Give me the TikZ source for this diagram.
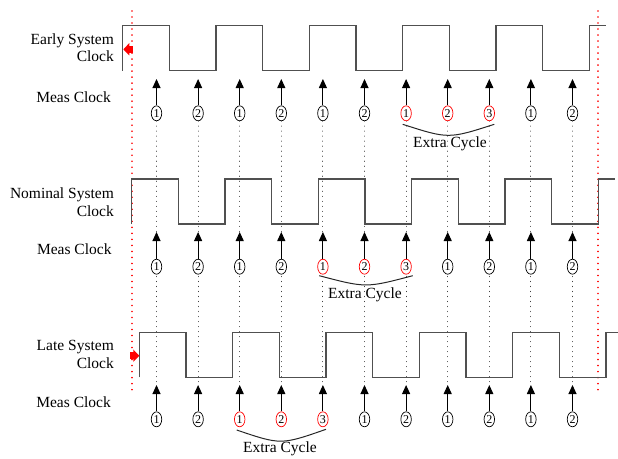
\documentclass[tikz,border=0pt]{standalone}
\usepackage{fontspec}
\setmainfont{Liberation Serif}
\usetikzlibrary{shapes.geometric,arrows.meta}
\definecolor{clkgray}{HTML}{505050}
\definecolor{dotgray}{HTML}{404040}
\pgfdeclarelayer{bg}
\pgfsetlayers{bg,main}
\begin{document}
\begin{tikzpicture}[x=1pt,y=-1pt,
  clk/.style={draw=clkgray,line width=1.4pt,line join=miter},
  lbl/.style={font=\fontsize{15.5}{17.5}\selectfont,align=right,anchor=east,inner sep=0pt},
  num/.style={ellipse,draw=black,line width=0.7pt,fill=white,minimum width=10.5pt,minimum height=15pt,inner sep=0pt,font=\fontsize{12}{12}\selectfont},
  rednum/.style={num,draw=red},
  meas/.style={draw=black,line width=1pt,-{Triangle[width=8pt,length=9pt]}},
  vdot/.style={draw=dotgray,line width=1.1pt,line cap=round,dash pattern=on 0.01pt off 5pt},
  rdot/.style={draw=red,line width=1.7pt,line cap=round,dash pattern=on 0.01pt off 6pt},
  xtra/.style={draw=black!85,line width=1pt},
  xlbl/.style={font=\fontsize{15.5}{17.5}\selectfont,inner sep=0pt},
  redarr/.style={draw=red,line width=6.5pt,-{Triangle[width=12pt,length=6pt]}},
]
\useasboundingbox (0,0) rectangle (618,458);

% labels
\node[lbl] (le) at (114,47.5) {Early System\\Clock};
\node[lbl] (lme) at (111,96.7) {Meas Clock};
\node[lbl] (ln) at (114,202) {Nominal System\\Clock};
\node[lbl] (lmn) at (111.7,249.3) {Meas Clock};
\node[lbl] (ll) at (114,354.5) {Late System\\Clock};
\node[lbl] (lml) at (111,402.3) {Meas Clock};

% red reference lines
\coordinate (rl1) at (131.7,11);
\coordinate (rl2) at (131.7,390);
\coordinate (rr1) at (598.3,11);
\coordinate (rr2) at (598.3,390);
\draw[rdot] (rl1) -- (rl2);
\draw[rdot] (rr1) -- (rr2);

% clocks
\draw[clk] (122.7,70.7) -- (122.7,25.7)
  -- (169.3,25.7) -- (169.3,70.7) -- (216,70.7) -- (216,25.7)
  -- (262.7,25.7) -- (262.7,70.7) -- (309.3,70.7) -- (309.3,25.7)
  -- (356,25.7) -- (356,70.7) -- (402.7,70.7) -- (402.7,25.7)
  -- (449.3,25.7) -- (449.3,70.7) -- (496,70.7) -- (496,25.7)
  -- (542.7,25.7) -- (542.7,70.7) -- (589.3,70.7) -- (589.3,25.7)
  -- (606,25.7);
\draw[clk] (131.7,224) -- (131.7,179)
  -- (178.3,179) -- (178.3,224) -- (225,224) -- (225,179)
  -- (271.7,179) -- (271.7,224) -- (318.3,224) -- (318.3,179)
  -- (365,179) -- (365,224) -- (411.7,224) -- (411.7,179)
  -- (458.3,179) -- (458.3,224) -- (505,224) -- (505,179)
  -- (551.7,179) -- (551.7,224) -- (598.3,224) -- (598.3,179)
  -- (615,179);
\draw[clk] (139.3,377.3) -- (139.3,332.3)
  -- (186,332.3) -- (186,377.3) -- (232.7,377.3) -- (232.7,332.3)
  -- (279.3,332.3) -- (279.3,377.3) -- (326,377.3) -- (326,332.3)
  -- (372.7,332.3) -- (372.7,377.3) -- (419.3,377.3) -- (419.3,332.3)
  -- (466,332.3) -- (466,377.3) -- (512.7,377.3) -- (512.7,332.3)
  -- (559.3,332.3) -- (559.3,377.3) -- (606,377.3) -- (606,332.3)
  -- (618,332.3);

% red shift arrows
\coordinate (ea1) at (132.5,49.3);
\coordinate (ea2) at (123.3,49.3);
\draw[redarr] (ea1) -- (ea2);
\coordinate (la1) at (130,355.7);
\coordinate (la2) at (139.3,355.7);
\draw[redarr] (la1) -- (la2);

% meas clocks
\foreach \lab/\st [count=\i from 0] in {1/num,2/num,1/num,2/num,1/num,2/num,1/rednum,2/rednum,3/rednum,1/num,2/num}{
  \node[\st] (e\i) at ({156.5+41.6*\i},113.3) {\lab};
  \coordinate (et\i) at ({156.5+41.6*\i},79);
  \draw[meas] (e\i.north) -- (et\i);
}
\foreach \lab/\st [count=\i from 0] in {1/num,2/num,1/num,2/num,1/rednum,2/rednum,3/rednum,1/num,2/num,1/num,2/num}{
  \node[\st] (n\i) at ({156.5+41.6*\i},266.7) {\lab};
  \coordinate (nt\i) at ({156.5+41.6*\i},232);
  \draw[meas] (n\i.north) -- (nt\i);
}
\foreach \lab/\st [count=\i from 0] in {1/num,2/num,1/rednum,2/rednum,3/rednum,1/num,2/num,1/num,2/num,1/num,2/num}{
  \node[\st] (l\i) at ({156.5+41.6*\i},419.3) {\lab};
  \coordinate (lt\i) at ({156.5+41.6*\i},385);
  \draw[meas] (l\i.north) -- (lt\i);
}
\begin{pgfonlayer}{bg}
\foreach \i in {0,...,10}{
  \draw[vdot,shorten >=2pt] (e\i.south) -- (lt\i);
}
\end{pgfonlayer}

% extra cycle braces
\coordinate (xe1) at (402.7,124.3);
\coordinate (xe2) at (494.3,124.3);
\draw[xtra] (xe1) .. controls (448.5,139) .. (xe2);
\node[xlbl] (te) at (450,143.3) {Extra Cycle};
\coordinate (xn1) at (319.3,275.7);
\coordinate (xn2) at (412.7,275.7);
\draw[xtra] (xn1) .. controls (366,288) .. (xn2);
\node[xlbl] (tn) at (365,294.3) {Extra Cycle};
\coordinate (xl1) at (236.7,430);
\coordinate (xl2) at (326,429.3);
\draw[xtra] (xl1) .. controls (281,445) .. (xl2);
\node[xlbl] (tl) at (280,448.3) {Extra Cycle};
\end{tikzpicture}
\end{document}
